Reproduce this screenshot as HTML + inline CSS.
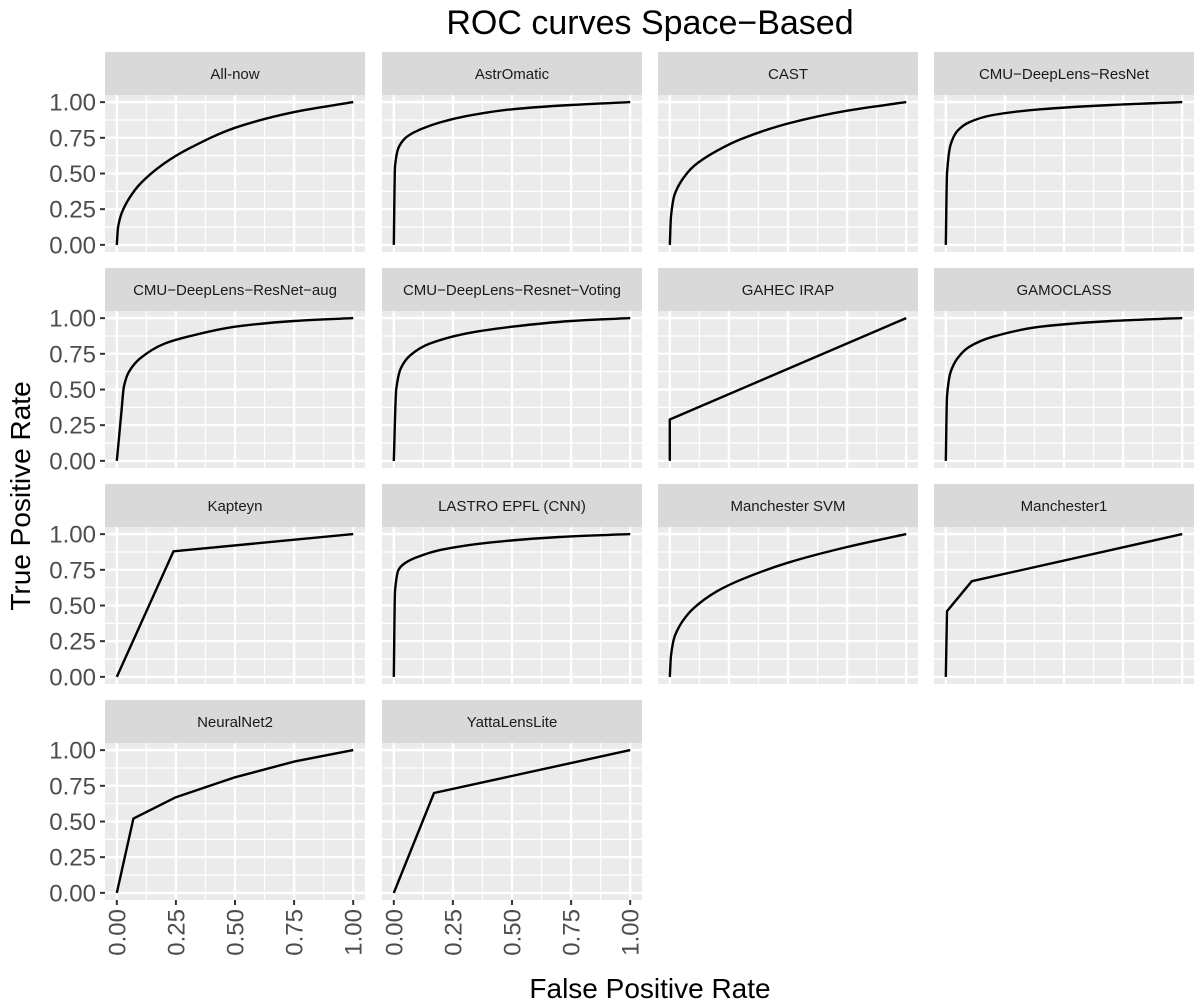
<!DOCTYPE html>
<html><head><meta charset="utf-8"><style>
body{margin:0;background:#fff;width:1200px;height:1007px;overflow:hidden}
svg{display:block;font-family:"Liberation Sans",sans-serif}
</style></head><body>
<svg id="c" width="1200" height="1007">
<text x="650" y="34" font-size="34" text-anchor="middle" fill="#000">ROC curves Space−Based</text>
<text transform="translate(30,496) rotate(-90)" font-size="28" text-anchor="middle" fill="#000">True Positive Rate</text>
<text x="650" y="998" font-size="28" text-anchor="middle" fill="#000">False Positive Rate</text>
</svg>
<script>
const panelNames = ["All-now","AstrOmatic","CAST","CMU−DeepLens−ResNet","CMU−DeepLens−ResNet−aug","CMU−DeepLens−Resnet−Voting","GAHEC IRAP","GAMOCLASS","Kapteyn","LASTRO EPFL (CNN)","Manchester SVM","Manchester1","NeuralNet2","YattaLensLite"];
const fprValues = [
 [0,0.005,0.02,0.05,0.1,0.2,0.3,0.5,0.75,1],
 [0,0.005,0.02,0.05,0.1,0.2,0.3,0.5,0.75,1],
 [0,0.005,0.02,0.05,0.1,0.2,0.3,0.5,0.75,1],
 [0,0.005,0.02,0.05,0.1,0.2,0.4,0.7,1],
 [0,0.02,0.03,0.05,0.1,0.2,0.3,0.5,0.75,1],
 [0,0.01,0.03,0.07,0.15,0.3,0.5,0.75,1],
 [0,0,1],
 [0,0.005,0.02,0.05,0.1,0.2,0.4,0.7,1],
 [0,0.24,1],
 [0,0.005,0.02,0.05,0.1,0.2,0.4,0.7,1],
 [0,0.005,0.02,0.05,0.1,0.2,0.3,0.5,0.75,1],
 [0,0.005,0.11,1],
 [0,0.07,0.25,0.5,0.75,1],
 [0,0.17,1]
];
const tprValues = [
 [0,0.12,0.22,0.32,0.43,0.57,0.67,0.82,0.93,1],
 [0,0.55,0.68,0.75,0.8,0.86,0.9,0.95,0.98,1],
 [0,0.2,0.35,0.45,0.55,0.66,0.74,0.85,0.94,1],
 [0,0.5,0.7,0.8,0.86,0.91,0.95,0.98,1],
 [0,0.35,0.52,0.62,0.72,0.82,0.87,0.94,0.98,1],
 [0,0.5,0.65,0.74,0.82,0.89,0.94,0.98,1],
 [0,0.29,1],
 [0,0.45,0.62,0.72,0.8,0.87,0.94,0.98,1],
 [0,0.88,1],
 [0,0.6,0.75,0.8,0.84,0.89,0.94,0.98,1],
 [0,0.15,0.28,0.38,0.48,0.6,0.68,0.8,0.91,1],
 [0,0.46,0.67,1],
 [0,0.52,0.67,0.81,0.92,1],
 [0,0.7,1]
];
const tickLabels = ["0.00","0.25","0.50","0.75","1.00"];
const tickVals = [0,0.25,0.5,0.75,1];
const NS="http://www.w3.org/2000/svg";
const svg=document.getElementById('c');
function mk(t,a,p){const e=document.createElementNS(NS,t);for(const k in a)e.setAttribute(k,a[k]);(p||svg).appendChild(e);return e;}
function monoPath(X,Y){
 const n=X.length;if(n<3)return X.map((x,j)=>(j?'L':'M')+x+','+Y[j]).join('');
 const d=[],m=new Array(n);
 for(let k=0;k<n-1;k++){const h=X[k+1]-X[k];d.push(h===0?0:(Y[k+1]-Y[k])/h);}
 m[0]=d[0];m[n-1]=d[n-2];
 for(let k=1;k<n-1;k++){m[k]=(d[k-1]*d[k]<=0)?0:2/(1/d[k-1]+1/d[k]);}
 let s='M'+X[0].toFixed(1)+','+Y[0].toFixed(1);
 for(let k=0;k<n-1;k++){const h=(X[k+1]-X[k])/3;
  s+='C'+(X[k]+h).toFixed(1)+','+(Y[k]+m[k]*h).toFixed(1)+' '+(X[k+1]-h).toFixed(1)+','+(Y[k+1]-m[k+1]*h).toFixed(1)+' '+X[k+1].toFixed(1)+','+Y[k+1].toFixed(1);}
 return s;}
const colX=[105,382,658,934], rowY=[52,268,484,700], PW=260, SH=43, PH=157;
panelNames.forEach((name,i)=>{
 const c=i%4, r=Math.floor(i/4);
 const x0=colX[c], sy=rowY[r], y0=sy+SH;
 const sx=v=>x0+PW*(v+0.05)/1.1, syf=v=>y0+PH-PH*(v+0.05)/1.1;
 const g=mk('g',{});
 
 
 const strip=mk('rect',{x:x0,y:sy,width:PW,height:SH,fill:'#d9d9d9'},g);
 
 
 const st=mk('text',{x:x0+PW/2,y:sy+27,'font-size':15,'text-anchor':'middle',fill:'#1a1a1a'},g);
 st.textContent=name;
 
 
 const bg=mk('rect',{x:x0,y:y0,width:PW,height:PH,fill:'#ebebeb'},g);
 
 
 for(let k=0;k<4;k++){const m=0.125+0.25*k;
  mk('line',{x1:sx(m),x2:sx(m),y1:y0,y2:y0+PH,stroke:'#fff','stroke-width':1.2},g);
  mk('line',{x1:x0,x2:x0+PW,y1:syf(m),y2:syf(m),stroke:'#fff','stroke-width':1.2},g);}
 tickVals.forEach(v=>{
  mk('line',{x1:sx(v),x2:sx(v),y1:y0,y2:y0+PH,stroke:'#fff','stroke-width':2.4},g);
  mk('line',{x1:x0,x2:x0+PW,y1:syf(v),y2:syf(v),stroke:'#fff','stroke-width':2.4},g);});
 if(c===0){tickVals.forEach((v,j)=>{
  mk('line',{x1:x0-5,x2:x0,y1:syf(v),y2:syf(v),stroke:'#333','stroke-width':2},g);
  const t=mk('text',{x:x0-9,y:syf(v)+8.5,'font-size':24,'text-anchor':'end',fill:'#4d4d4d'},g);
  t.textContent=tickLabels[j];
  
  });}
 if(r===3){tickVals.forEach((v,j)=>{
  mk('line',{x1:sx(v),x2:sx(v),y1:y0+PH,y2:y0+PH+5,stroke:'#333','stroke-width':2},g);
  const t=mk('text',{transform:`translate(${sx(v)+8.5},${y0+PH+9}) rotate(-90)`,'font-size':24,'text-anchor':'end',fill:'#4d4d4d'},g);
  t.textContent=tickLabels[j];
  
  });}
 const X=fprValues[i].map(sx), Y=tprValues[i].map(syf);
 const d=X.length>6?monoPath(X,Y):X.map((x,j)=>(j?'L':'M')+x.toFixed(1)+','+Y[j].toFixed(1)).join('');
 const p=mk('path',{d:d,fill:'none',stroke:'#000','stroke-width':2.4,'stroke-linejoin':'round'},g);
 
 
});
</script>
</body></html>
